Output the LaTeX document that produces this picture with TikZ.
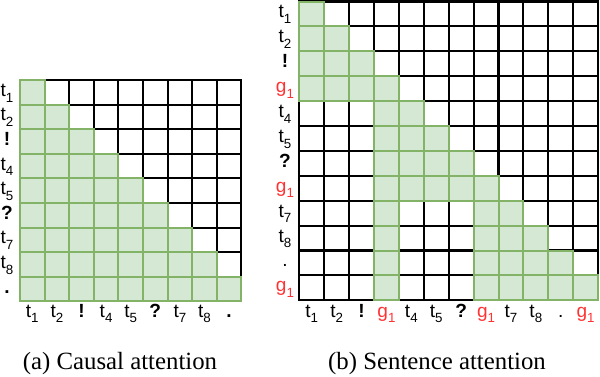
\documentclass[tikz,border=0pt]{standalone}
\usepackage{fontspec}
\setmainfont{Liberation Serif}
\setsansfont{Liberation Sans}
\definecolor{gfill}{HTML}{D5E8D4}
\definecolor{gline}{HTML}{82B366}
\definecolor{gred}{HTML}{FF3333}
\newcommand\sbs[1]{\raisebox{-0.3em}{\fontsize{10}{10}\selectfont #1}}
\begin{document}
\begin{tikzpicture}[x=0.75pt,y=-0.75pt,
  wcell/.style={draw=black, fill=white, line width=1.6pt},
  gcell/.style={draw=gline, fill=gfill, line width=1.5pt},
  lbl/.style={font=\sffamily\fontsize{14.3}{15}\selectfont, inner sep=0pt, anchor=base},
  redlbl/.style={lbl, text=gred},
  captxt/.style={font=\rmfamily\fontsize{18.6}{20}\selectfont, inner sep=0pt, anchor=base}]
\useasboundingbox (0,0) rectangle (600,376);
% ---------- (a) causal grid ----------
\def\ax{20}\def\ay{80}\def\ac{24.6}
\foreach \r in {0,...,8}{
  \foreach \c in {0,...,8}{
    \draw[wcell] ({\ax+\c*\ac},{\ay+\r*\ac}) rectangle ++(\ac,\ac);
  }
}
\foreach \r in {0,...,8}{
  \foreach \c in {0,...,\r}{
    \draw[gcell] ({\ax+\c*\ac},{\ay+\r*\ac}) rectangle ++(\ac,\ac);
  }
}
\foreach \t [count=\i from 0] in {t\sbs{1},t\sbs{2},\textbf{!},t\sbs{4},t\sbs{5},\textbf{?},t\sbs{7},t\sbs{8},\textbf{.}}{
  \node[lbl] (ar\i) at (7,{\ay+(\i+0.5)*\ac+4}) {\t};
  \node[lbl] (ac\i) at ({\ax+(\i+0.5)*\ac},317) {\t};
}
\node[captxt] (capa) at (120,369) {(a) Causal attention};
% ---------- (b) sentence grid ----------
\def\bx{299.3}\def\by{1.5}\def\bc{24.9}
\foreach \r in {0,...,11}{
  \foreach \c in {0,...,11}{
    \draw[wcell] ({\bx+\c*\bc},{\by+\r*\bc}) rectangle ++(\bc,\bc);
  }
}
\foreach \r/\cs in {0/{0},1/{0,1},2/{0,1,2},3/{0,1,2,3},
  4/{3,4},5/{3,4,5},6/{3,4,5,6},7/{3,4,5,6,7},
  8/{3,7,8},9/{3,7,8,9},10/{3,7,8,9,10},11/{3,7,8,9,10,11}}{
  \foreach \c in \cs{
    \draw[gcell] ({\bx+\c*\bc},{\by+\r*\bc}) rectangle ++(\bc,\bc);
  }
}
\foreach \t/\s [count=\i from 0] in {t\sbs{1}/lbl,t\sbs{2}/lbl,\textbf{!}/lbl,g\sbs{1}/redlbl,t\sbs{4}/lbl,t\sbs{5}/lbl,\textbf{?}/lbl,g\sbs{1}/redlbl,t\sbs{7}/lbl,t\sbs{8}/lbl,./lbl,g\sbs{1}/redlbl}{
  \node[\s] (br\i) at (285,{\by+(\i+0.5)*\bc+4}) {\t};
  \node[\s] (bc\i) at ({\bx+(\i+0.5)*\bc},317) {\t};
}
\node[captxt] (capb) at (437,369) {(b) Sentence attention};
\end{tikzpicture}
\end{document}
